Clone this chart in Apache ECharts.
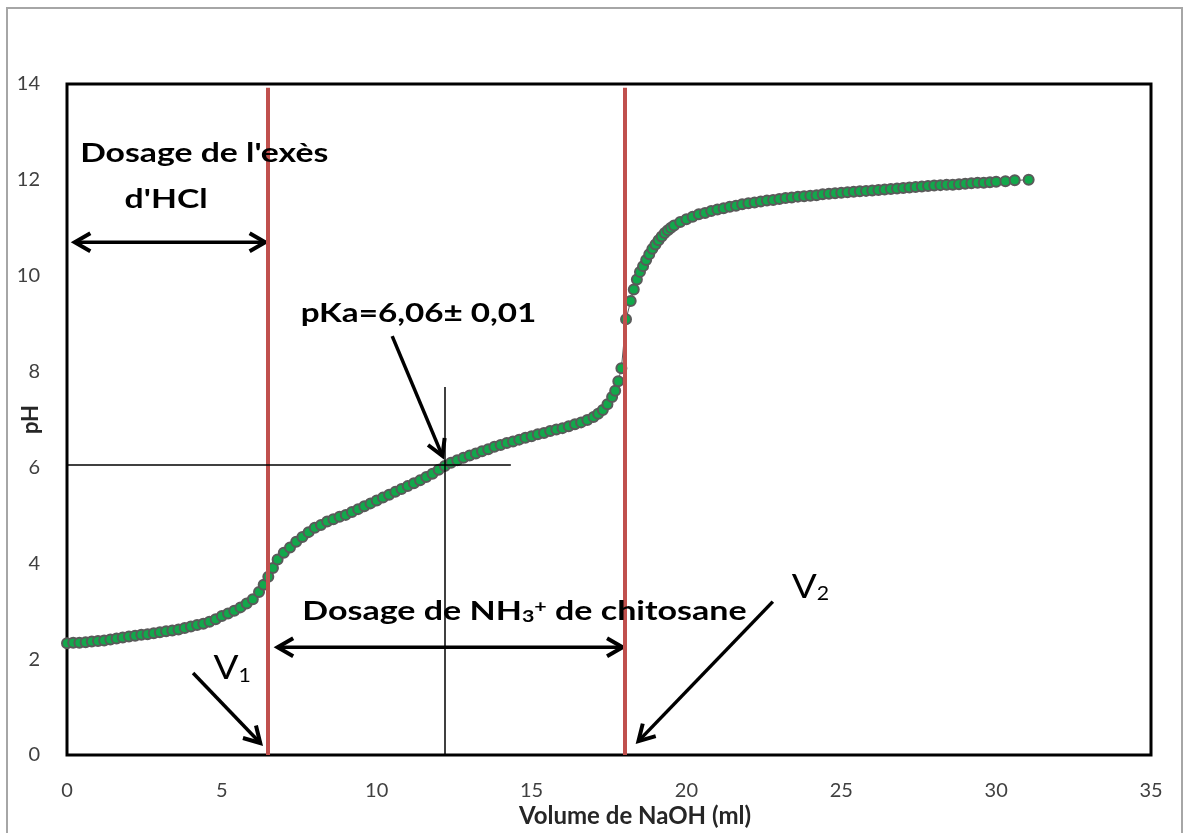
<!DOCTYPE html>
<html>
<head>
<meta charset="utf-8">
<title>Dosage pH chitosane</title>
<script src="https://cdn.jsdelivr.net/npm/echarts@6/dist/echarts.min.js"></script>
<style>
  html, body { margin: 0; padding: 0; background: #fff; }
  #chart { width: 1183px; height: 833px; }
</style>
</head>
<body>
<div id="chart"></div>
<script>
// titration data (volume NaOH in ml, pH)
const volume = [
  0, 0.2, 0.4, 0.6, 0.8, 1.0, 1.2, 1.4, 1.6, 1.8, 2.0, 2.2, 2.4, 2.6, 2.8, 3.0,
  3.2, 3.4, 3.6, 3.8, 4.0, 4.2, 4.4, 4.6, 4.8, 5.0, 5.2, 5.4, 5.6, 5.8, 6.0, 6.2,
  6.35, 6.5, 6.65, 6.8, 7.0, 7.2, 7.4, 7.6, 7.8, 8.0, 8.2, 8.4, 8.6, 8.8, 9.0,
  9.2, 9.4, 9.6, 9.8, 10.0, 10.2, 10.4, 10.6, 10.8, 11.0, 11.2, 11.4, 11.6, 11.8,
  12.0, 12.2, 12.4, 12.6, 12.8, 13.0, 13.2, 13.4, 13.6, 13.8, 14.0, 14.2, 14.4,
  14.6, 14.8, 15.0, 15.2, 15.4, 15.6, 15.8, 16.0, 16.2, 16.4, 16.6, 16.8, 17.0,
  17.15, 17.3, 17.45, 17.6, 17.7, 17.8, 17.9, 18.05, 18.2, 18.3, 18.4, 18.5, 18.6,
  18.7, 18.8, 18.9, 19.0, 19.1, 19.2, 19.3, 19.4, 19.5, 19.6, 19.8, 20.0, 20.2,
  20.4, 20.6, 20.8, 21.0, 21.2, 21.4, 21.6, 21.8, 22.0, 22.2, 22.4, 22.6, 22.8,
  23.0, 23.2, 23.4, 23.6, 23.8, 24.0, 24.2, 24.4, 24.6, 24.8, 25.0, 25.2, 25.4,
  25.6, 25.8, 26.0, 26.2, 26.4, 26.6, 26.8, 27.0, 27.2, 27.4, 27.6, 27.8, 28.0,
  28.2, 28.4, 28.6, 28.8, 29.0, 29.2, 29.4, 29.6, 29.8, 30.0, 30.3, 30.6, 31.05
]
const ph = [
  2.33, 2.34, 2.34, 2.35, 2.37, 2.38, 2.39, 2.41, 2.43, 2.45, 2.47, 2.49, 2.51, 2.52, 2.54, 2.56,
  2.58, 2.6, 2.62, 2.65, 2.68, 2.71, 2.74, 2.78, 2.83, 2.9, 2.95, 3.01, 3.08, 3.16, 3.25, 3.4,
  3.55, 3.72, 3.9, 4.08, 4.22, 4.33, 4.45, 4.55, 4.65, 4.74, 4.8, 4.87, 4.92, 4.97, 5.01,
  5.07, 5.13, 5.19, 5.25, 5.31, 5.37, 5.43, 5.49, 5.55, 5.61, 5.67, 5.73, 5.8, 5.87,
  5.95, 6.03, 6.1, 6.15, 6.2, 6.25, 6.29, 6.34, 6.38, 6.43, 6.47, 6.51, 6.54,
  6.58, 6.62, 6.65, 6.69, 6.72, 6.76, 6.79, 6.82, 6.86, 6.9, 6.94, 6.99, 7.05,
  7.12, 7.2, 7.32, 7.47, 7.6, 7.8, 8.07, 9.09, 9.47, 9.71, 9.92, 10.08, 10.2,
  10.33, 10.45, 10.56, 10.65, 10.74, 10.82, 10.89, 10.95, 11.0, 11.05, 11.12, 11.18, 11.23,
  11.28, 11.31, 11.35, 11.38, 11.41, 11.44, 11.46, 11.49, 11.51, 11.53, 11.55, 11.57, 11.58,
  11.6, 11.62, 11.63, 11.65, 11.66, 11.67, 11.68, 11.7, 11.71, 11.72, 11.73, 11.74, 11.75,
  11.76, 11.77, 11.78, 11.79, 11.8, 11.81, 11.82, 11.83, 11.84, 11.85, 11.86, 11.87, 11.88,
  11.89, 11.9, 11.9, 11.91, 11.92, 11.93, 11.94, 11.94, 11.95, 11.96, 11.97, 11.99, 12.0
]

// equivalence volumes and half-equivalence point
const equivVolumes = [6.47, 18.0]
const pKa = 6.06
const pKaVolume = 12.2

// axis ranges
const xRange = { min: 0, max: 35, interval: 5 }
const yRange = { min: 0, max: 14, interval: 2 }

const FONT = "Lato, 'Open Sans', sans-serif"

// annotations, positioned in data coordinates
const arrows = [
  { from: [0.25, 10.7], to: [6.4, 10.7], both: true },
  { from: [6.8, 2.25], to: [17.94, 2.25], both: true },
  { from: [4.07, 1.71], to: [6.24, 0.25] },
  { from: [22.79, 3.2], to: [18.45, 0.29] },
  { from: [10.5, 8.74], to: [12.12, 6.24] }
]
const bigText = { fontSize: 27, fontWeight: "bold", fontFamily: FONT, fill: "#000" }
// the source picture is stretched sideways, hence the scaleX
const notes = [
  { at: [4.43, 12.55], text: "Dosage de l'exès", sx: 1.25 },
  { at: [3.2, 11.6], text: "d'HCl", sx: 1.25 },
  { at: [11.35, 9.22], text: "pKa=6,06± 0,01", sx: 1.23 },
  { at: [14.77, 3.0], text: "{t|Dosage de NH}{s|3}{p|+}{t| de chitosane}", sx: 1.26 },
  { at: [5.33, 1.8], text: "{v|V}{n|1}", sx: 1.12 },
  { at: [24.0, 3.5], text: "{v|V}{n|2}", sx: 1.12 }
]
const rich = {
  t: { fontSize: 27, fontWeight: "bold", fontFamily: FONT },
  s: { fontSize: 17, fontWeight: "bold", fontFamily: FONT, verticalAlign: "bottom" },
  p: { fontSize: 17, fontWeight: "bold", fontFamily: FONT, verticalAlign: "top" },
  v: { fontSize: 33, fontFamily: FONT },
  n: { fontSize: 19, fontFamily: FONT, verticalAlign: "bottom" }
}

const chart = echarts.init(document.getElementById("chart"))

const option = {
  animation: false,
  backgroundColor: "#fff",
  grid: {
    left: 67, right: 32, top: 84, bottom: 76,
    show: true, borderColor: "#000", borderWidth: 3
  },
  xAxis: {
    type: "value",
    ...xRange,
    name: "Volume de NaOH (ml)",
    nameLocation: "middle",
    nameGap: 49,
    nameMoveOverlap: false,
    nameTextStyle: { fontSize: 24, fontWeight: "bold", color: "#262626", fontFamily: FONT, padding: [0, 0, 0, 52] },
    axisLine: { show: false },
    axisTick: { show: false },
    splitLine: { show: false },
    axisLabel: { fontSize: 20, color: "#404040", fontFamily: FONT, margin: 26 }
  },
  yAxis: {
    type: "value",
    ...yRange,
    name: "pH",
    nameLocation: "middle",
    nameGap: 25,
    nameMoveOverlap: false,
    nameTextStyle: { fontSize: 22, fontWeight: "bold", color: "#262626", fontFamily: FONT },
    axisLine: { show: false },
    axisTick: { show: false },
    splitLine: { show: false },
    axisLabel: { fontSize: 20, color: "#404040", fontFamily: FONT, margin: 27 }
  },
  series: [
    {
      name: "pH",
      type: "line",
      data: volume.map((v, i) => [v, ph[i]]),
      showAllSymbol: true,
      symbol: "circle",
      symbolSize: 10,
      lineStyle: { color: "#595959", width: 1 },
      itemStyle: { color: "#12a84b", borderColor: "#5a5a5a", borderWidth: 2 },
      z: 2
    },
    {
      name: "guides",
      type: "line",
      data: [],
      z: 5,
      markLine: {
        silent: true,
        symbol: "none",
        label: { show: false },
        data: [
          ...equivVolumes.map(v => [
            { coord: [v, 0], lineStyle: { color: "#c0504d", width: 4, type: "solid" } },
            { coord: [v, 13.92] }
          ]),
          [
            { coord: [0, pKa], lineStyle: { color: "#000", width: 1.5, type: "solid" } },
            { coord: [14.33, pKa] }
          ],
          [
            { coord: [pKaVolume, 0], lineStyle: { color: "#000", width: 1.5, type: "solid" } },
            { coord: [pKaVolume, 7.68] }
          ]
        ]
      }
    }
  ],
  graphic: [
    {
      type: "rect",
      shape: { x: 7, y: 8, width: 1175, height: 840 },
      style: { fill: null, stroke: "#a6a6a6", lineWidth: 2 },
      silent: true
    }
  ]
}

chart.setOption(option)

const px = p => chart.convertToPixel({ gridIndex: 0 }, p)

function arrowHead(tip, tail) {
  const a = Math.atan2(tip[1] - tail[1], tip[0] - tail[0])
  const len = 18, spread = Math.PI / 6
  return {
    type: "polyline",
    shape: {
      points: [
        [tip[0] - len * Math.cos(a - spread), tip[1] - len * Math.sin(a - spread)],
        tip,
        [tip[0] - len * Math.cos(a + spread), tip[1] - len * Math.sin(a + spread)]
      ]
    },
    style: { stroke: "#000", lineWidth: 4, fill: null, lineJoin: "miter" }
  }
}

const arrowGraphics = arrows.map(a => {
  const p1 = px(a.from), p2 = px(a.to)
  const children = [
    { type: "line", shape: { x1: p1[0], y1: p1[1], x2: p2[0], y2: p2[1] }, style: { stroke: "#000", lineWidth: 3.5 } },
    arrowHead(p2, p1)
  ]
  if (a.both) children.push(arrowHead(p1, p2))
  return { type: "group", z: 10, silent: true, children }
})

const noteGraphics = notes.map(n => {
  const p = px(n.at)
  return {
    type: "text",
    x: p[0], y: p[1], scaleX: n.sx, z: 10, silent: true,
    style: { ...bigText, text: n.text, rich, align: "center", verticalAlign: "middle" }
  }
})

chart.setOption({ graphic: [option.graphic[0], ...arrowGraphics, ...noteGraphics] })
</script>
</body>
</html>
